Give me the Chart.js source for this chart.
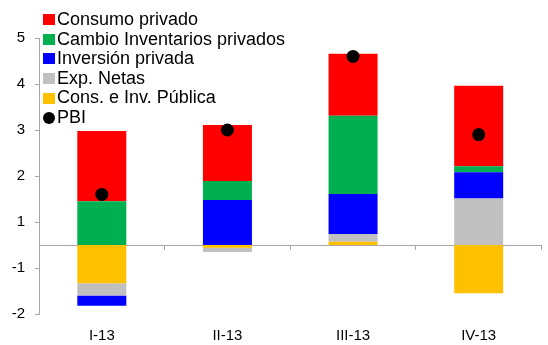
<!DOCTYPE html>
<html>
<head>
<meta charset="utf-8">
<script src="https://cdn.jsdelivr.net/npm/chart.js@4"></script>
<style>
  body { margin: 0; background: #fff; }
  #wrap { position: relative; width: 548px; height: 345px; }
  #legend {
    position: absolute; left: 43px; top: 10px;
    font-family: "Liberation Sans", Arial, sans-serif; font-size: 18px;
    color: #000; line-height: 19.6px;
  }
  #legend div { display: flex; align-items: center; white-space: nowrap; }
  #legend span.box { width: 12px; height: 11px; margin-right: 2px; flex: none; }
  #legend span.dot { width: 12px; height: 12px; border-radius: 50%; margin-right: 2px; flex: none; }
</style>
</head>
<body>
<div id="wrap">
  <canvas id="chart" width="548" height="345"></canvas>
  <div id="legend"></div>
</div>
<script>
// contribuciones al crecimiento del PBI por trimestre (puntos porcentuales)
const trimestres = ["I-13", "II-13", "III-13", "IV-13"];
const consumoPrivado = [1.53, 1.22, 1.35, 1.75];
const cambioInventarios = [0.95, 0.41, 1.70, 0.13];
const inversionPrivada = [-0.22, 0.98, 0.87, 0.57];
const expNetas = [-0.27, -0.09, 0.17, 1.01];
const consPublica = [-0.83, -0.06, 0.07, -1.05];
const pbi = [1.1, 2.5, 4.1, 2.4];

// el eje va de -1.5 a 4.5; las etiquetas se redondean como en Excel
const yMin = -1.5, yMax = 4.5, yStep = 1;

const FONT = "'Liberation Sans', Arial, sans-serif";
const GRIS = "#a6a6a6";

// orden de apilado: el primero queda pegado al cero
const series = [
  { label: "Cons. e Inv. Pública", data: consPublica, color: "#FFC000" },
  { label: "Exp. Netas", data: expNetas, color: "#C0C0C0" },
  { label: "Inversión privada", data: inversionPrivada, color: "#0000FF" },
  { label: "Cambio Inventarios privados", data: cambioInventarios, color: "#00B050" },
  { label: "Consumo privado", data: consumoPrivado, color: "#FF0000" }
];

const datasets = series.map(s => ({
  type: "bar",
  label: s.label,
  data: s.data,
  backgroundColor: s.color,
  borderWidth: 0,
  barPercentage: 0.39,
  categoryPercentage: 1,
  order: 0
}));

datasets.push({
  type: "line",
  label: "PBI",
  data: pbi,
  showLine: false,
  pointRadius: 6.5,
  pointBackgroundColor: "#000",
  pointBorderWidth: 0,
  stack: "pbi",
  order: -1
});

function redondeo(v) {
  return Math.sign(v) * Math.round(Math.abs(v));
}

new Chart(document.getElementById("chart"), {
  data: { labels: trimestres, datasets: datasets },
  options: {
    responsive: false,
    animation: false,
    layout: { padding: { left: 12, top: 38, right: 0, bottom: 0 } },
    plugins: { legend: { display: false }, tooltip: { enabled: false } },
    scales: {
      x: {
        stacked: true,
        grid: { display: false, drawTicks: false },
        border: { display: false },
        ticks: { color: "#000", font: { family: FONT, size: 15 }, padding: 13 },
        afterFit: s => { s.height = 31; }
      },
      // eje en el cero: solo la línea y las marcas entre trimestres
      x2: {
        type: "category",
        position: { y: 0 },
        offset: true,
        grid: { offset: true, drawOnChartArea: false, drawTicks: true, tickLength: 4, color: GRIS },
        border: { display: true, color: GRIS, width: 1 },
        ticks: { display: false },
        afterFit: s => { s.height = 0; }
      },
      y: {
        stacked: true,
        min: yMin,
        max: yMax,
        ticks: {
          stepSize: yStep,
          color: "#000",
          font: { family: FONT, size: 15 },
          padding: 10,
          callback: v => redondeo(v)
        },
        grid: { drawOnChartArea: false, drawTicks: true, tickLength: 4, color: GRIS },
        border: { display: true, color: GRIS, width: 1 },
        afterFit: s => { s.width = 27; }
      }
    }
  }
});

// leyenda: consumo arriba, PBI al final
const legend = document.getElementById("legend");
series.slice().reverse().forEach(s => {
  const row = document.createElement("div");
  row.innerHTML = `<span class="box" style="background:${s.color}"></span>${s.label}`;
  legend.appendChild(row);
});
const rowPbi = document.createElement("div");
rowPbi.innerHTML = `<span class="dot" style="background:#000"></span>PBI`;
legend.appendChild(rowPbi);
</script>
</body>
</html>
